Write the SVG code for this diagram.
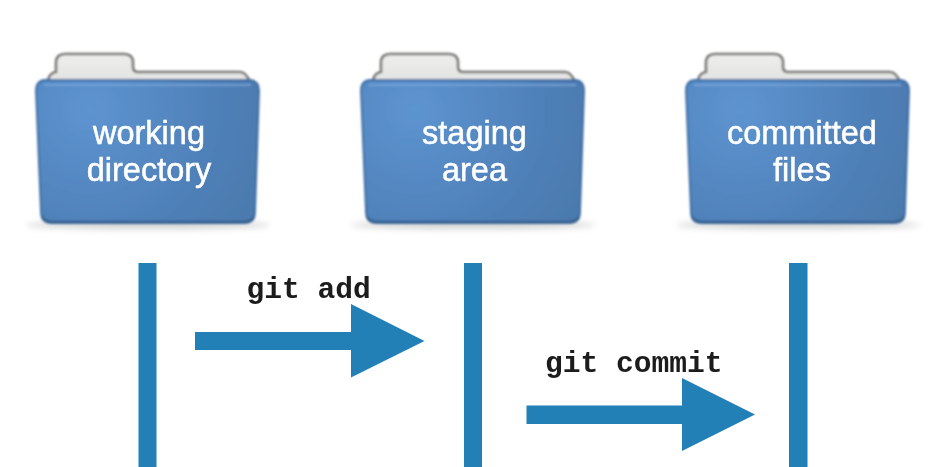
<svg xmlns="http://www.w3.org/2000/svg" width="937" height="467" viewBox="0 0 937 467">
<style>
.lbl{font-family:"Liberation Sans",Arial,sans-serif;font-size:32.5px;fill:#fff;stroke:#fff;stroke-width:.5px;text-anchor:middle}
.cmd{font-family:"Liberation Mono","DejaVu Sans Mono",monospace;font-size:29.6px;font-weight:bold;fill:#1c1c1c}
.blue{fill:#2280b6}
</style>
<defs>
<radialGradient id="body" gradientUnits="userSpaceOnUse" cx="90" cy="110" r="210">
<stop offset="0" stop-color="#5d94d0"/><stop offset=".6" stop-color="#4f80b8"/><stop offset="1" stop-color="#4b78aa"/>
</radialGradient>
<linearGradient id="paper" x1="0" y1="0" x2="0" y2="1">
<stop offset="0" stop-color="#eeeeec"/><stop offset="1" stop-color="#e2e2e0"/>
</linearGradient>
<filter id="soft" x="-5%" y="-5%" width="110%" height="110%"><feGaussianBlur stdDeviation=".9"/></filter>
<filter id="shadow" x="-10%" y="-200%" width="120%" height="500%"><feGaussianBlur stdDeviation="3"/></filter>
<filter id="txt" x="-5%" y="-10%" width="110%" height="120%"><feGaussianBlur stdDeviation=".6"/></filter>
<filter id="edge" x="-5%" y="-10%" width="110%" height="120%"><feGaussianBlur stdDeviation=".4"/></filter>
<g id="folder">
<ellipse cx="148" cy="225" rx="122" ry="4" fill="#9a9a9a" opacity=".45" filter="url(#shadow)"/>
<g filter="url(#soft)">
<path d="M48 82 L49 77 Q51 73 56 72 V63 Q56 54 65 54 H124 Q133 54 133 63 V67 Q133 72 138 72 H240 Q246 72 250 82 Z" fill="url(#paper)" stroke="#757573" stroke-width="2.6"/>
<path d="M46 80 H249 Q259 80 259 91 L255 212 Q255 223 244 223 H52 Q41 223 41 212 L36 91 Q36 80 46 80 Z" fill="url(#body)" stroke="#3a6aa3" stroke-width="1.8"/>
<path d="M44 85 H251" stroke="#7ba6d8" stroke-width="1.6" fill="none"/>
<path d="M42 217 Q45 222 52 222 H244 Q251 222 254 217" stroke="#38608e" stroke-width="2.5" fill="none"/>
</g>
</g>
</defs>
<rect width="937" height="467" fill="#fff"/>
<g id="working-directory">
<use href="#folder"/>
<g filter="url(#txt)"><text class="lbl" x="149" y="144">working</text><text class="lbl" x="149" y="181">directory</text></g>
</g>
<g id="staging-area">
<use href="#folder" x="325"/>
<g filter="url(#txt)"><text class="lbl" x="474.500" y="144">staging</text><text class="lbl" x="474.500" y="181">area</text></g>
</g>
<g id="committed-files">
<use href="#folder" x="650"/>
<g filter="url(#txt)"><text class="lbl" x="802" y="144">committed</text><text class="lbl" x="802" y="181">files</text></g>
</g>
<g id="connectors" filter="url(#edge)">
<rect class="blue" x="138.500" y="263" width="18" height="206"/>
<rect class="blue" x="464" y="263" width="18" height="206"/>
<rect class="blue" x="789" y="263" width="18.500" height="206"/>
<path class="blue" d="M195 332 H351 V304 L424.500 341 L351 377.500 V350 H195 Z"/>
<path class="blue" d="M526.500 405.500 H682 V378 L755 414.500 L682 451 V424 H526.500 Z"/>
</g>
<g id="labels" filter="url(#txt)">
<text class="cmd" x="246.500" y="298">git add</text>
<text class="cmd" x="545" y="372">git commit</text>
</g>
</svg>
